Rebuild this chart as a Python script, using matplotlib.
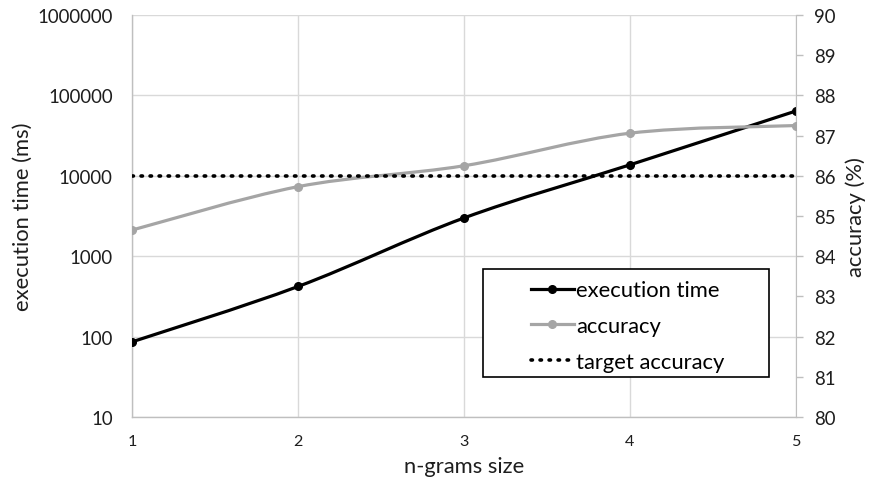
import matplotlib
matplotlib.use("Agg")
import matplotlib.pyplot as plt
import numpy as np
from matplotlib.path import Path
from matplotlib.patches import PathPatch, Rectangle
from matplotlib.lines import Line2D

# ---- data ----
ngram_sizes = [1, 2, 3, 4, 5]
exec_time_ms = [86, 420, 2990, 13700, 64000]
accuracy_pct = [84.65, 85.73, 86.25, 87.06, 87.25]
target_accuracy = 86.0
x_ticks = [1, 2, 3, 4, 5]
left_ticks = [10, 100, 1000, 10000, 100000, 1000000]
left_tick_labels = ["10", "100", "1000", "10000", "100000", "1000000"]
right_ticks = list(range(80, 91))

plt.rcParams['font.family'] = ['Lato', 'DejaVu Sans']
TXT = '#1E1E1E'
GRID = '#D9D9D9'
AXC = '#BFBFBF'
GRAY = '#A5A5A5'
FS = 13.4
LFS = 15.8

W, H = 869, 481
fig = plt.figure(figsize=(W / 100, H / 100), dpi=100)
L, R, T, B = 132, 796, 16, 418
ax = fig.add_axes([L / W, 1 - B / H, (R - L) / W, (B - T) / H])
ax2 = ax.twinx()


def smooth_path(xs, ys, logy=False):
    """Excel-like smooth line: cubic Bezier segments through the points."""
    xs = np.asarray(xs, float)
    ys = np.asarray(ys, float)
    yy = np.log10(ys) if logy else ys
    n = len(xs)
    verts = [(xs[0], yy[0])]
    codes = [Path.MOVETO]
    for i in range(n - 1):
        i0 = max(i - 1, 0)
        i3 = min(i + 2, n - 1)
        c1 = (xs[i] + (xs[i + 1] - xs[i0]) / 6, yy[i] + (yy[i + 1] - yy[i0]) / 6)
        c2 = (xs[i + 1] - (xs[i3] - xs[i]) / 6, yy[i + 1] - (yy[i3] - yy[i]) / 6)
        verts += [c1, c2, (xs[i + 1], yy[i + 1])]
        codes += [Path.CURVE4] * 3
    verts = np.array(verts)
    if logy:
        verts[:, 1] = 10 ** verts[:, 1]
    return Path(verts, codes)


# left axis (execution time, log)
ax.set_yscale('log')
ax.set_xlim(1, 5)
ax.set_ylim(10, 1000000)
ax.set_yticks(left_ticks)
ax.set_yticklabels(left_tick_labels)
ax.minorticks_off()
ax.set_xticks(x_ticks)
ax.set_xticklabels([str(v) for v in x_ticks])
ax.grid(True, which='major', color=GRID, linewidth=1)
ax.set_axisbelow(True)
for s in ['top', 'right']:
    ax.spines[s].set_visible(False)
for s in ['left', 'bottom']:
    ax.spines[s].set_color(AXC)
    ax.spines[s].set_linewidth(1)
ax.tick_params(axis='y', length=0, pad=14, labelsize=FS, labelcolor=TXT)
ax.tick_params(axis='x', length=0, pad=12, labelsize=FS - 1.8, labelcolor=TXT)

ax.add_patch(PathPatch(smooth_path(ngram_sizes, exec_time_ms, logy=True),
                       facecolor='none', edgecolor='black', lw=2.3, zorder=4))
ax.plot(ngram_sizes, exec_time_ms, 'o', color='black', ms=5.5, zorder=5)

# right axis (accuracy)
ax2.set_ylim(80, 90)
ax2.set_yticks(right_ticks)
for s in ['top', 'left', 'bottom']:
    ax2.spines[s].set_visible(False)
ax2.spines['right'].set_color(AXC)
ax2.tick_params(axis='y', length=5, width=1, color=AXC, pad=8, labelsize=FS, labelcolor=TXT)

ax2.add_patch(PathPatch(smooth_path(ngram_sizes, accuracy_pct),
                        facecolor='none', edgecolor=GRAY, lw=2.3, zorder=3))
ax2.plot(ngram_sizes, accuracy_pct, 'o', color=GRAY, ms=5.5, zorder=3)
ax2.plot([ngram_sizes[0], ngram_sizes[-1]], [target_accuracy, target_accuracy],
         color='black', lw=2.6, linestyle=(0, (0.4, 2.1)), dash_capstyle='round', zorder=4)

ax.set_xlabel('n-grams size', fontsize=LFS, color=TXT, labelpad=6)
ax.set_ylabel('execution time (ms)', fontsize=LFS, color=TXT, labelpad=3)
ax2.set_ylabel('accuracy (%)', fontsize=LFS, color=TXT, labelpad=7)

# legend
handles = [
    Line2D([], [], color='black', lw=2.3, marker='o', ms=5.5),
    Line2D([], [], color=GRAY, lw=2.3, marker='o', ms=5.5),
    Line2D([], [], color='black', lw=2.6, linestyle=(0, (0.4, 2.1)), dash_capstyle='round'),
]
labels = ['execution time', 'accuracy', 'target accuracy']
bx0, by0, bx1, by1 = 483, 270, 769, 378
fig.patches.append(Rectangle((bx0 / W, 1 - by1 / H), (bx1 - bx0) / W, (by1 - by0) / H,
                             transform=fig.transFigure, facecolor='white',
                             edgecolor='black', lw=1.2, zorder=10))
leg = fig.legend(handles, labels, loc='center left',
                 bbox_to_anchor=(520 / W, 1 - ((by0 + by1) / 2 + 3) / H),
                 frameon=False, fontsize=LFS, handlelength=1.95, handletextpad=0.1,
                 labelspacing=0.72, borderpad=0, labelcolor='black')
leg.set_zorder(11)

fig.savefig('out.png', dpi=100)
